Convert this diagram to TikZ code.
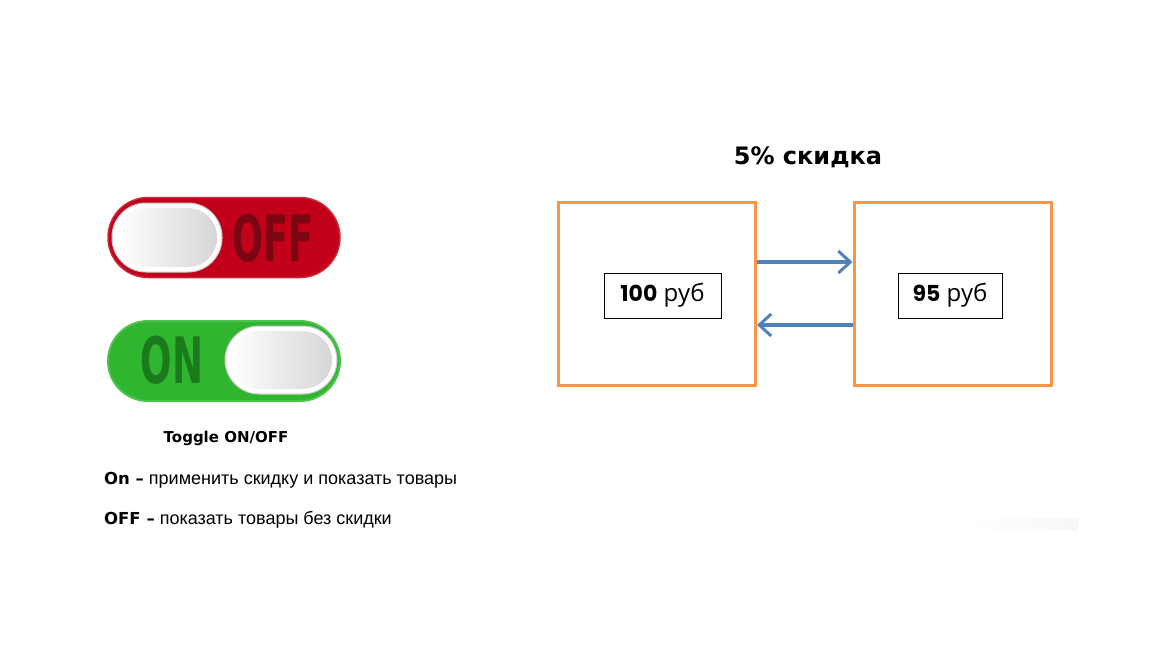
\documentclass[tikz,border=0pt]{standalone}
\usepackage{fontspec}
\setmainfont{Liberation Sans}
\newfontfamily\heavyfont{DejaVu Sans}
\newfontfamily\popfont{Poppins}
\newfontfamily\rubfont{Open Sans}
\usetikzlibrary{arrows.meta}
\definecolor{orng}{HTML}{F79646}
\definecolor{blu}{HTML}{4F81BD}
\definecolor{swred}{HTML}{C20019}
\definecolor{swdred}{HTML}{7A0612}
\definecolor{swgreen}{HTML}{30B530}
\definecolor{swlgreen}{HTML}{4CC44C}
\definecolor{swdgreen}{HTML}{1B7A1B}
\tikzset{
  pill/.style={minimum width=232pt, minimum height=80pt, rounded corners=40pt, inner sep=0pt},
  knobouter/.style={fill=white, draw=black!22, line width=1pt, rounded corners=34pt, inner sep=0pt},
  knobinner/.style={left color=white, right color=black!16, rounded corners=29pt, inner sep=0pt},
  swtext/.style={font=\heavyfont\bfseries\fontsize{64}{64}\selectfont, inner sep=0pt},
  obox/.style={draw=orng, line width=3pt, minimum width=197pt, minimum height=183pt, inner sep=0pt},
  pbox/.style={draw=black, line width=0.8pt, minimum height=45pt, inner sep=0pt},
  arr/.style={draw=blu, line width=3.2pt, -{Straight Barb[length=12pt,width=22pt,line width=3pt]}},
}
\begin{document}
\begin{tikzpicture}[x=1pt,y=-1pt]
\useasboundingbox (0,0) rectangle (1152,648);
% OFF switch
\node[pill, fill=swred, draw=swred!85!white, line width=1.5pt] (offsw) at (224,237.5) {};
\node[knobouter, minimum width=110pt, minimum height=69pt] (offknob) at (167,237.5) {};
\node[knobinner, minimum width=100pt, minimum height=59pt] (offknobin) at (167,237.5) {};
\node[swtext, text=swdred] (offtxt) at (273,238) {\scalebox{0.57}[1]{OFF}};
% ON switch
\node[pill, fill=swgreen, draw=swlgreen, line width=2pt] (onsw) at (224,361) {};
\node[knobouter, minimum width=112pt, minimum height=68pt] (onknob) at (281,360) {};
\node[knobinner, minimum width=102pt, minimum height=58pt] (onknobin) at (281,360) {};
\node[swtext, text=swdgreen] (ontxt) at (172,360) {\scalebox{0.58}[1]{ON}};
% captions
\node[font=\heavyfont\bfseries\fontsize{15}{17}\selectfont, anchor=base] (toggle) at (226,442) {Toggle ON/OFF};
\node[anchor=base west, inner sep=0pt, font=\fontsize{18}{20}\selectfont] (online) at (104,484)
  {{\heavyfont\bfseries\fontsize{16.5}{20}\selectfont On –} применить скидку и показать товары};
\node[anchor=base west, inner sep=0pt, font=\fontsize{18}{20}\selectfont] (offline) at (104,524)
  {{\heavyfont\bfseries\fontsize{16.5}{20}\selectfont OFF –} показать товары без скидки};
% title
\node[font=\heavyfont\bfseries\fontsize{24}{28}\selectfont] (title) at (808,157) {5\% скидка};
% boxes
\node[obox] (lbox) at (657,294) {};
\node[obox] (rbox) at (952.5,294) {};
\node[pbox, minimum width=117pt] (lprice) at (662.5,295.5) {{\popfont\bfseries\fontsize{22}{24}\selectfont 100}{\rubfont\fontsize{24}{26}\selectfont\ руб}};
\node[pbox, minimum width=104pt] (rprice) at (950,295.5) {{\popfont\bfseries\fontsize{22}{24}\selectfont 95}{\rubfont\fontsize{24}{26}\selectfont\ руб}};
% arrows
\draw[arr] ([yshift=32pt]lbox.east) -- ([yshift=32pt]rbox.west);
\draw[arr] ([yshift=-31pt]rbox.west) -- ([yshift=-31pt]lbox.east);
% faint bar
\shade[left color=white, right color=black!3] (965,518) rectangle (1078,530);
\end{tikzpicture}
\end{document}
